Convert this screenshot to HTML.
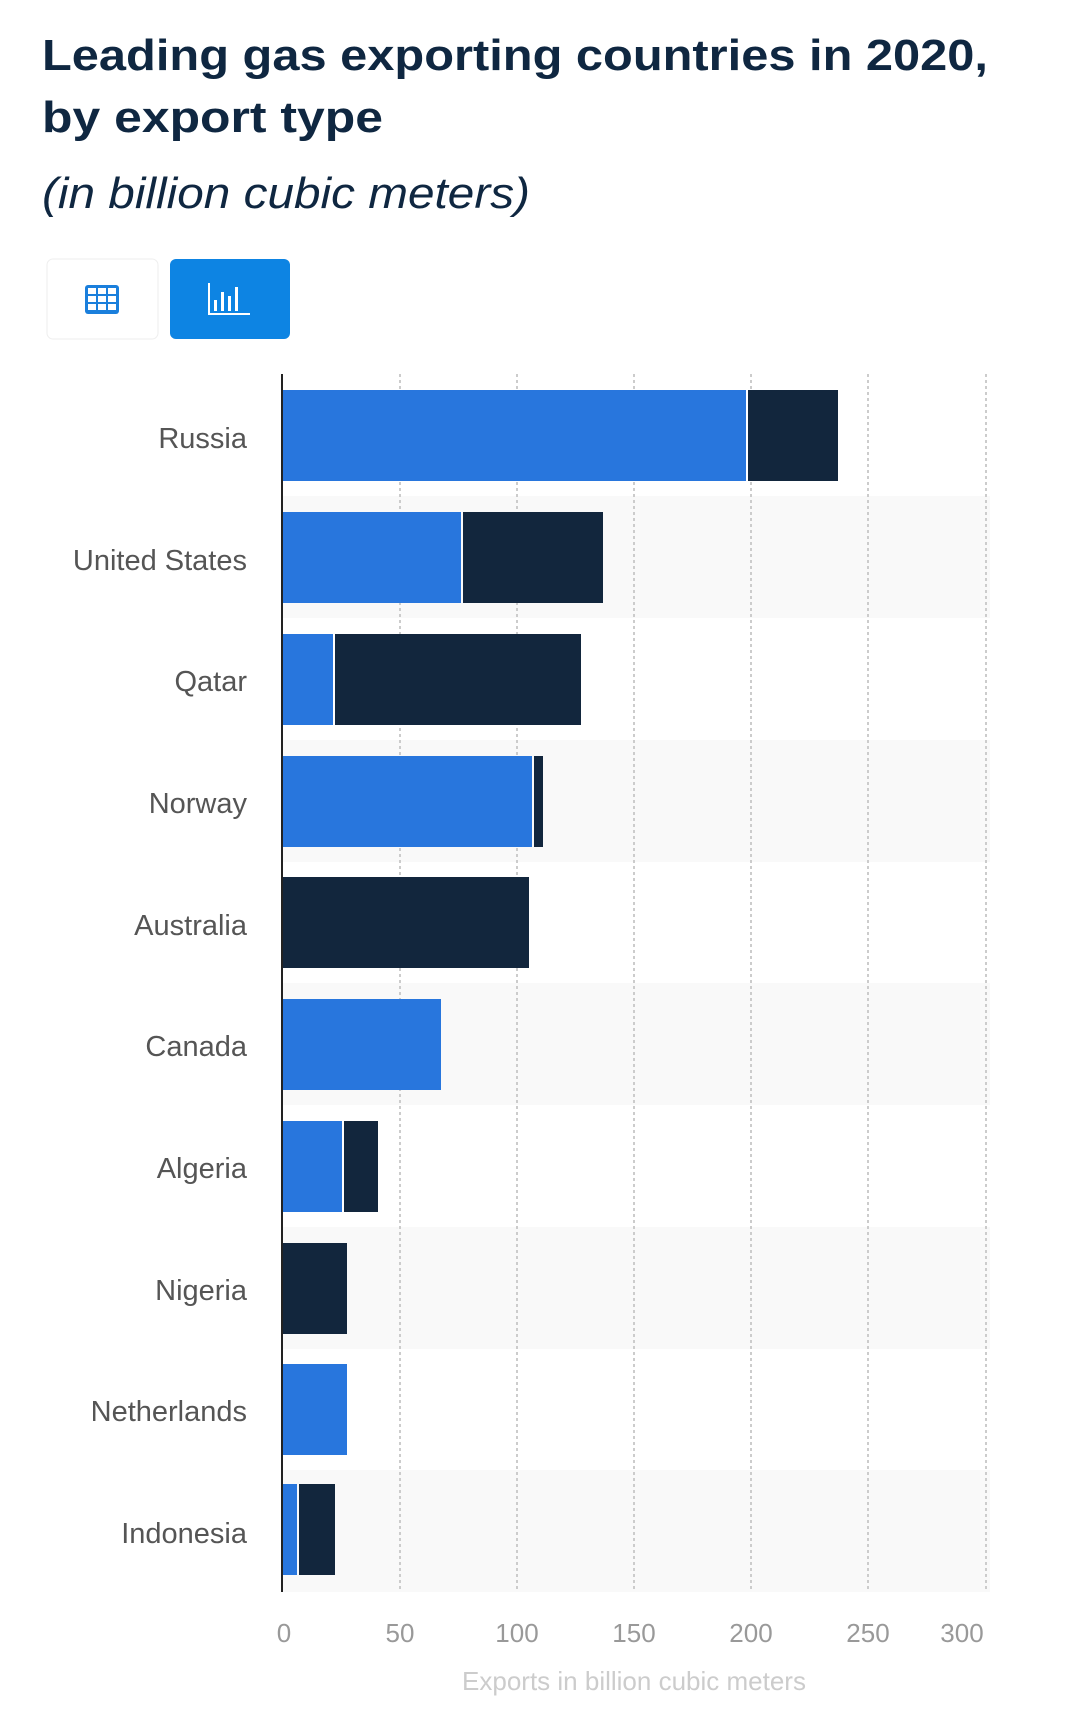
<!DOCTYPE html>
<html><head><meta charset="utf-8"><style>
html,body{margin:0;padding:0;background:#fff;}
body{width:1080px;height:1712px;overflow:hidden;}
</style></head><body>
<svg width="1080" height="1712" xmlns="http://www.w3.org/2000/svg" font-family="Liberation Sans, sans-serif">
<text x="42" y="70" font-size="44" font-weight="bold" fill="#0f2741" textLength="946" lengthAdjust="spacingAndGlyphs">Leading gas exporting countries in 2020,</text>
<text x="42" y="132" font-size="44" font-weight="bold" fill="#0f2741" textLength="341" lengthAdjust="spacingAndGlyphs">by export type</text>
<text x="42" y="208" font-size="44" font-style="italic" fill="#0f2741" textLength="488" lengthAdjust="spacingAndGlyphs">(in billion cubic meters)</text>
<rect x="47" y="259" width="111" height="80" rx="6" fill="#fff" stroke="#eee"/>
<g fill="#1a7fdc"><rect x="85" y="285" width="34" height="29" rx="3"/></g>
<g fill="#fff">
<rect x="88" y="288" width="8" height="6"/><rect x="98" y="288" width="8" height="6"/><rect x="108" y="288" width="8" height="6"/>
<rect x="88" y="296" width="8" height="6"/><rect x="98" y="296" width="8" height="6"/><rect x="108" y="296" width="8" height="6"/>
<rect x="88" y="304" width="8" height="6"/><rect x="98" y="304" width="8" height="6"/><rect x="108" y="304" width="8" height="6"/>
</g>
<rect x="170" y="259" width="120" height="80" rx="6" fill="#0d84e3"/>
<g fill="#fff"><rect x="208" y="283" width="2" height="32"/><rect x="208" y="313" width="42" height="2"/>
<rect x="214" y="300" width="3" height="11"/><rect x="221" y="292" width="3" height="19"/><rect x="228" y="296" width="3" height="15"/><rect x="235" y="287" width="3" height="24"/></g>
<g fill="#f9f9f9">
<rect x="283" y="496" width="707" height="122"/><rect x="283" y="740" width="707" height="122"/><rect x="283" y="983" width="707" height="122"/><rect x="283" y="1227" width="707" height="122"/><rect x="283" y="1470" width="707" height="122"/>
</g>
<g stroke="#ccc" stroke-width="2" stroke-dasharray="3,3">
<line x1="400" y1="374" x2="400" y2="1592"/><line x1="517" y1="374" x2="517" y2="1592"/><line x1="634" y1="374" x2="634" y2="1592"/><line x1="751" y1="374" x2="751" y2="1592"/><line x1="868" y1="374" x2="868" y2="1592"/><line x1="986" y1="374" x2="986" y2="1592"/>
</g>
<g>
<rect x="283" y="390" width="463" height="91" fill="#2876dd"/><rect x="748" y="390" width="90" height="91" fill="#12263d"/>
<rect x="283" y="512" width="178" height="91" fill="#2876dd"/><rect x="463" y="512" width="140" height="91" fill="#12263d"/>
<rect x="283" y="634" width="50" height="91" fill="#2876dd"/><rect x="335" y="634" width="246" height="91" fill="#12263d"/>
<rect x="283" y="756" width="249" height="91" fill="#2876dd"/><rect x="534" y="756" width="9" height="91" fill="#12263d"/>
<rect x="283" y="877" width="246" height="91" fill="#12263d"/>
<rect x="283" y="999" width="158" height="91" fill="#2876dd"/>
<rect x="283" y="1121" width="59" height="91" fill="#2876dd"/><rect x="344" y="1121" width="34" height="91" fill="#12263d"/>
<rect x="283" y="1243" width="64" height="91" fill="#12263d"/>
<rect x="283" y="1364" width="64" height="91" fill="#2876dd"/>
<rect x="283" y="1484" width="14" height="91" fill="#2876dd"/><rect x="299" y="1484" width="36" height="91" fill="#12263d"/>
</g>
<line x1="282" y1="374" x2="282" y2="1592" stroke="#222" stroke-width="2"/>
<g font-size="29" fill="#555" text-anchor="end">
<text x="247" y="448">Russia</text><text x="247" y="570">United States</text><text x="247" y="691">Qatar</text><text x="247" y="813">Norway</text><text x="247" y="935">Australia</text><text x="247" y="1056">Canada</text><text x="247" y="1178">Algeria</text><text x="247" y="1300">Nigeria</text><text x="247" y="1421">Netherlands</text><text x="247" y="1543">Indonesia</text>
</g>
<g font-size="26" fill="#999" text-anchor="middle">
<text x="284" y="1642">0</text><text x="400" y="1642">50</text><text x="517" y="1642">100</text><text x="634" y="1642">150</text><text x="751" y="1642">200</text><text x="868" y="1642">250</text><text x="962" y="1642">300</text>
</g>
<text x="634" y="1690" font-size="26" fill="#ccc" text-anchor="middle">Exports in billion cubic meters</text>
</svg>
</body></html>
